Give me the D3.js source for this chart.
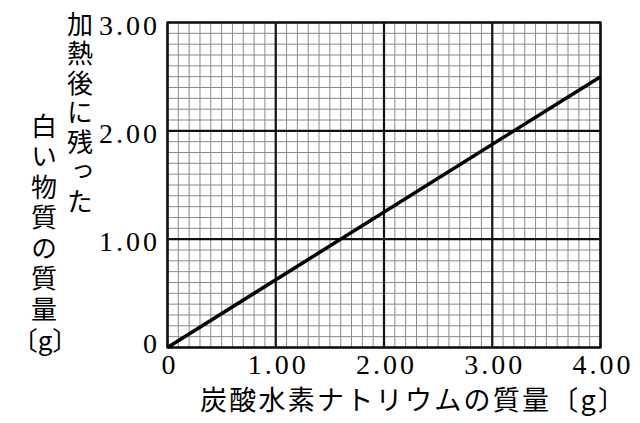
<!DOCTYPE html>
<html>
<head>
<meta charset="utf-8">
<script src="https://cdn.jsdelivr.net/npm/d3@7"></script>
<style>
  body { margin: 0; background: #fff; }
  svg { display: block; }
</style>
</head>
<body>
<div id="container"></div>
<script>
const WIDTH = 640, HEIGHT = 423;

// 炭酸水素ナトリウムの質量 [g] -> 加熱後に残った白い物質の質量 [g]
const massNaHCO3 = [0, 4.00];
const massResidue = [0, 2.50];

// 目盛り
const xTicks = [0, 1, 2, 3, 4];
const xTickLabels = ["0", "1.00", "2.00", "3.00", "4.00"];
const yTicks = [0, 1, 2, 3];
const yTickLabels = ["0", "1.00", "2.00", "3.00"];

const xTitle = "炭酸水素ナトリウムの質量〔g〕";
const yTitleRight = "加熱後に残った";
const yTitleLeft = "白い物質の質量";
const yTitleUnit = "〔g〕";

const NUM_FONT = "'Liberation Serif', 'DejaVu Serif', serif";
const JP_FONT = "'Noto Sans CJK JP', sans-serif";

// 描画範囲
const X1 = 167.5, X2 = 600.5, Y1 = 22.5, Y2 = 347.5;

const x = d3.scaleLinear().domain([0, 4]).range([X1, X2]);
const y = d3.scaleLinear().domain([0, 3]).range([Y2, Y1]);

const svg = d3.select("#container").append("svg")
    .attr("width", WIDTH)
    .attr("height", HEIGHT);

// 細かい方眼
const minorX = d3.range(1, 40).filter(i => i % 10 !== 0).map(i => i / 10);
const minorY = d3.range(1, 30).filter(i => i % 10 !== 0).map(i => i / 10);

const grid = svg.append("g").attr("id", "grid");
grid.selectAll("line.mx").data(minorX).enter().append("line")
    .attr("class", "mx")
    .attr("x1", d => x(d)).attr("x2", d => x(d))
    .attr("y1", Y1).attr("y2", Y2)
    .attr("stroke", "#8a8a8a").attr("stroke-width", 1);
grid.selectAll("line.my").data(minorY).enter().append("line")
    .attr("class", "my")
    .attr("y1", d => y(d)).attr("y2", d => y(d))
    .attr("x1", X1).attr("x2", X2)
    .attr("stroke", "#8a8a8a").attr("stroke-width", 1);

// 太い線
grid.selectAll("line.Mx").data(xTicks).enter().append("line")
    .attr("class", "Mx")
    .attr("x1", d => x(d)).attr("x2", d => x(d))
    .attr("y1", Y1).attr("y2", Y2)
    .attr("stroke", "#111").attr("stroke-width", 2.2);
grid.selectAll("line.My").data(yTicks).enter().append("line")
    .attr("class", "My")
    .attr("y1", d => y(d)).attr("y2", d => y(d))
    .attr("x1", X1).attr("x2", X2)
    .attr("stroke", "#111").attr("stroke-width", 2.2);
grid.append("rect")
    .attr("x", X1).attr("y", Y1)
    .attr("width", X2 - X1).attr("height", Y2 - Y1)
    .attr("fill", "none").attr("stroke", "#111").attr("stroke-width", 2.2);

// グラフの線
const pts = massNaHCO3.map((d, i) => [d, massResidue[i]]);
svg.append("path")
    .datum(pts)
    .attr("d", d3.line().x(d => x(d[0])).y(d => y(d[1])))
    .attr("fill", "none")
    .attr("stroke", "#000")
    .attr("stroke-width", 3.5);

// 目盛りラベル
svg.selectAll("text.xt").data(xTicks).enter().append("text")
    .attr("class", "xt")
    .attr("x", d => x(d) + 2.5)
    .attr("y", 374)
    .attr("text-anchor", "middle")
    .style("font-family", NUM_FONT)
    .style("font-size", "28px")
    .style("letter-spacing", "3px")
    .text((d, i) => xTickLabels[i]);

svg.selectAll("text.yt").data(yTicks).enter().append("text")
    .attr("class", "yt")
    .attr("x", 160)
    .attr("y", d => d === 0 ? y(d) + 5 : y(d) + 12)
    .attr("text-anchor", "end")
    .style("font-family", NUM_FONT)
    .style("font-size", "28px")
    .style("letter-spacing", "3px")
    .text((d, i) => yTickLabels[i]);

// 軸タイトル
svg.append("text")
    .attr("x", 200)
    .attr("y", 410)
    .style("font-family", JP_FONT)
    .style("font-size", "27px")
    .attr("textLength", 425)
    .text(xTitle);

function verticalColumn(str, cx, y0, spacing) {
    svg.append("text")
        .attr("x", cx)
        .attr("y", y0)
        .style("writing-mode", "vertical-rl")
        .style("font-family", JP_FONT)
        .style("font-size", "26px")
        .style("letter-spacing", spacing + "px")
        .text(str);
}
verticalColumn(yTitleRight, 80, 11, 3.5);
verticalColumn(yTitleLeft, 44, 113, 4.5);

svg.append("text")
    .attr("x", 45)
    .attr("y", 350)
    .attr("text-anchor", "middle")
    .style("font-family", JP_FONT)
    .style("font-size", "26px")
    .text(yTitleUnit);
</script>
</body>
</html>
